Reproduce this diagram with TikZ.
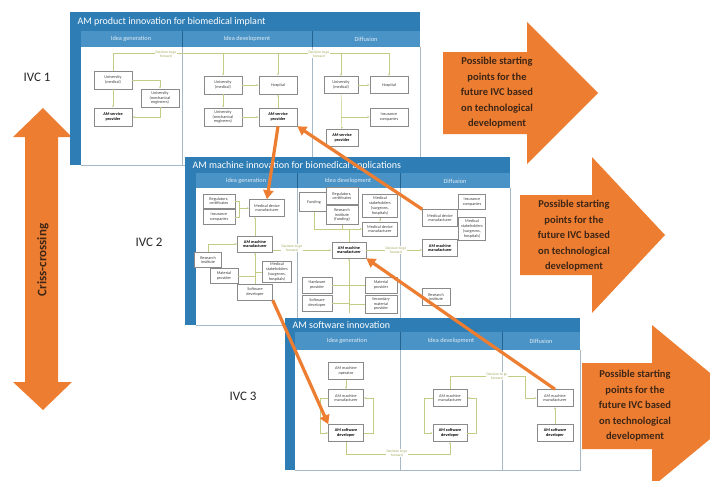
\documentclass[tikz,border=0pt]{standalone}
\usepackage{fontspec}
\setmainfont{Carlito}
\usepackage{tikz}
\usetikzlibrary{arrows.meta}

\definecolor{panelblue}{HTML}{2E7DB5}
\definecolor{headblue}{HTML}{4A93C6}
\definecolor{rulegray}{HTML}{A7B8C6}
\definecolor{boxgray}{HTML}{8A8A8A}
\definecolor{flowgreen}{HTML}{C3CB84}
\definecolor{decgreen}{HTML}{A3A85A}
\definecolor{ivcorange}{HTML}{ED7D31}
\definecolor{arrowtext}{HTML}{3E2616}

\begin{document}
\begin{tikzpicture}[
   x=1pt, y=-1pt,
   box/.style={draw=boxgray, fill=white, line width=.5pt, align=center, inner sep=.5pt,
      minimum width=35pt, minimum height=16pt,
      font=\fontsize{4.2}{4.8}\selectfont, text=black!75},
   keybox/.style={box, font=\fontsize{4.2}{4.8}\selectfont\bfseries, text=black},
   flow/.style={draw=flowgreen, line width=.5pt, -{Latex[length=2.2pt,width=2pt]}},
   bus/.style={draw=flowgreen, line width=.5pt},
   decision/.style={fill=white, inner sep=.3pt, align=center, text=decgreen,
      font=\fontsize{3.6}{4}\selectfont},
   paneltitle/.style={anchor=west, text=white, font=\fontsize{10}{12}\selectfont},
   colhead/.style={text=white!85!panelblue, font=\fontsize{6.3}{7}\selectfont},
   cross/.style={draw=ivcorange, line width=3.2pt, -{Triangle[length=9pt,width=10pt]}},
   bigtext/.style={align=center, text=arrowtext, font=\fontsize{10.5}{15.5}\selectfont\bfseries},
   ivc/.style={text=black!85, font=\fontsize{13}{14}\selectfont}
]
\useasboundingbox (0,0) rectangle (710,480);
\clip (0,0) rectangle (710,480);

% big arrows on the right
\fill[ivcorange] (443,52) -- (527,52) -- (527,22) -- (598,93) -- (527,164) -- (527,134) -- (443,134) -- cycle;
\node[bigtext] (startA) at (497,93) {Possible starting\\points for the\\future IVC based\\on technological\\development};
\fill[ivcorange] (520,195) -- (592,195) -- (592,157) -- (665,235) -- (592,313) -- (592,275) -- (520,275) -- cycle;
\node[bigtext] (startB) at (574,236) {Possible starting\\points for the\\future IVC based\\on technological\\development};
\fill[ivcorange] (582,363) -- (652,363) -- (652,325) -- (750,406) -- (652,487) -- (652,449) -- (582,449) -- cycle;
\node[bigtext] (startC) at (635,406) {Possible starting\\points for the\\future IVC based\\on technological\\development};

% criss-crossing
\fill[ivcorange] (43,108) -- (72,137) -- (58,137) -- (58,382) -- (72,382) -- (43,410)
   -- (13,382) -- (25,382) -- (25,137) -- (13,137) -- cycle;
\node[rotate=90, text=arrowtext, font=\fontsize{13}{14}\selectfont\bfseries] (criss) at (43,260) {Criss-crossing};

\node[ivc] (ivcA) at (37,77) {IVC 1};
\node[ivc] (ivcB) at (149,242) {IVC 2};
\node[ivc] (ivcC) at (243,396) {IVC 3};

% IVC 1
\fill[panelblue] (70,12) rectangle (420,165);
\fill[headblue] (81,31) rectangle (420,47);
\fill[white] (81,47) rectangle (420,165);
\draw[rulegray] (81,165) -- (420,165) -- (420,47);
\draw[rulegray] (182,47) -- (182,165) (312,47) -- (312,165);
\draw[panelblue!80!black, line width=.4pt] (182,31) -- (182,47) (312,31) -- (312,47);
\node[paneltitle] (aTitle) at (74,22) {AM product innovation for biomedical implant};
\foreach \cx/\ct in {131/Idea generation, 247/Idea development, 366/Diffusion}
   \node[colhead] at (\cx,39) {\ct};

\node[box, minimum width=38pt, minimum height=18pt] (aUnivMedG) at (113,80) {University\\(medical)};
\node[box, minimum width=38pt, minimum height=18pt] (aUnivMechG) at (160,98) {University\\(mechanical\\engineers)};
\node[keybox, minimum width=38pt, minimum height=18pt] (aServG) at (113,117) {AM service\\provider};
\node[box, minimum width=38pt, minimum height=18pt] (aUnivMedD) at (223,85) {University\\(medical)};
\node[box, minimum width=38pt, minimum height=18pt] (aHospD) at (278,85) {Hospital};
\node[box, minimum width=38pt, minimum height=18pt] (aUnivMechD) at (223,117) {University\\(mechanical\\engineers)};
\node[keybox, minimum width=38pt, minimum height=18pt] (aServD) at (278,117) {AM service\\provider};
\node[box, minimum width=34pt, minimum height=17pt] (aUnivMedF) at (341,85) {University\\(medical)};
\node[box, minimum width=38pt, minimum height=17pt] (aHospF) at (389,85) {Hospital};
\node[box, minimum width=38pt, minimum height=18pt] (aInsF) at (389,117) {Insurance\\companies};
\node[keybox, minimum width=32pt, minimum height=17pt] (aServF) at (342,138) {AM service\\provider};

\coordinate (aDecLine) at (0,53);
\draw[bus] (aUnivMedG.north) |- (aHospF.north |- aDecLine);
\foreach \n in {aUnivMedD, aHospD, aUnivMedF, aHospF}
   \draw[flow] (\n.north |- aDecLine) -- (\n.north);
\draw[flow] (aUnivMedG) -- (aServG);
\draw[flow] (aUnivMedG.east) -| (aUnivMechG.north);
\draw[flow] (aUnivMechG.south) |- (aServG.east);
\draw[flow] (aUnivMedD) -- (aHospD);
\draw[flow] (aUnivMedD) -- (aUnivMechD);
\draw[flow] (aUnivMechD) -- (aServD);
\draw[flow] (aServD) -- (aHospD);
\draw[flow] (aUnivMedF) -- (aHospF);
\draw[flow] (aUnivMedF) -- (aServF);
\draw[flow] (aUnivMedF.south |- aInsF) -- (aInsF);
\node[decision] (aDecA) at (166,54) {Decision to go\\forward};
\node[decision] (aDecB) at (319,54) {Decision to go\\forward};

% IVC 2
\fill[panelblue] (185,157) rectangle (510,325);
\fill[headblue] (196,173) rectangle (510,188);
\fill[white] (196,188) rectangle (510,325);
\draw[rulegray] (196,325) -- (510,325) -- (510,188);
\draw[rulegray] (297,188) -- (297,325) (400,188) -- (400,325);
\draw[panelblue!80!black, line width=.4pt] (297,173) -- (297,188) (400,173) -- (400,188);
\node[paneltitle] (bTitle) at (189,166) {AM machine innovation for biomedical applications};
\foreach \cx/\ct in {246/Idea generation, 348/Idea development, 455/Diffusion}
   \node[colhead] at (\cx,181) {\ct};

\node[box, minimum width=32pt, minimum height=14pt] (bRegG) at (219,201) {Regulators,\\certificates};
\node[box, minimum width=32pt, minimum height=15pt] (bInsG) at (219,217) {Insurance\\companies};
\node[box, minimum height=17pt] (bMedDevG) at (267,208) {Medical device\\manufacturer};
\node[keybox] (bMachG) at (255,244) {AM machine\\manufacturer};
\node[box, minimum width=27pt, minimum height=15pt] (bResG) at (208,260) {Research\\institute};
\node[box, minimum width=28pt, minimum height=15pt] (bMatG) at (224,276) {Material\\provider};
\node[box, minimum width=29pt, minimum height=21pt] (bStakeG) at (277,272) {Medical\\stakeholders\\(surgeons,\\hospitals)};
\node[box] (bSoftG) at (255,292) {Software\\developer};

\node[box, minimum width=30pt, minimum height=19pt] (bFundD) at (314,202) {Funding};
\node[box, minimum width=32pt, minimum height=17pt] (bRegD) at (342,196) {Regulators,\\certificates};
\node[box, minimum width=32pt, minimum height=19pt] (bResD) at (342,215) {Research\\institute\\(funding)};
\node[box, minimum height=23pt] (bStakeD) at (380,206) {Medical\\stakeholders\\(surgeons,\\hospitals)};
\node[box, minimum height=14pt] (bMedDevD) at (380,229) {Medical device\\manufacturer};
\node[keybox, minimum width=34pt] (bMachD) at (349,250) {AM machine\\manufacturer};
\node[box, minimum width=30pt] (bHardD) at (317,285) {Hardware\\provider};
\node[box, minimum width=30pt] (bSoftD) at (317,303) {Software\\developer};
\node[box, minimum width=32pt] (bMatD) at (381,285) {Material\\provider};
\node[box, minimum width=32pt, minimum height=18pt] (bSecD) at (381,304) {Secondary\\material\\provider};

\node[box, minimum width=27pt, minimum height=15pt] (bInsF) at (472,202) {Insurance\\companies};
\node[box, minimum width=27pt, minimum height=23pt] (bStakeF) at (472,229) {Medical\\stakeholders\\(surgeons,\\hospitals)};
\node[box, minimum height=17pt] (bMedDevF) at (440,218) {Medical device\\manufacturer};
\node[keybox, minimum height=17pt] (bMachF) at (440,248) {AM machine\\manufacturer};
\node[box, minimum width=28pt, minimum height=17pt] (bResF) at (436,297) {Research\\institute};

\draw[bus] (bRegG.east) -- ++(4,0) |- (bInsG.east);
\draw[flow] ([xshift=4pt]bRegG.south east) -- (bMedDevG.west |- bRegG.south east);
\draw[flow] (bMachG.north) -- (bMachG.north |- bMedDevG.south);
\draw[flow] (bResG.north) |- (bMachG.west);
\draw[flow] (bSoftG) -- (bMachG);
\draw[bus] (bMatG.east) -- (bMatG.east -| bSoftG.north);
\draw[bus] (bStakeG.west) -- (bStakeG.west -| bSoftG.north);
\draw[flow] (bMachG.east |- bMachD) -- (bMachD.west);

\coordinate (bTrunk) at (349,313);
\draw[flow] (bTrunk) -- (bMachD);
\foreach \n in {bHardD, bSoftD}
   \draw[bus] (\n.east) -- (\n.east -| bTrunk);
\foreach \n in {bMatD, bSecD}
   \draw[bus] (\n.west) -- (\n.west -| bTrunk);
\draw[flow] (bMachD.north) |- (bMedDevD.west);
\draw[bus] (bFundD.south) |- (bMachD.north |- bMedDevD.west);
\draw[bus] (bResD.south) -- (bResD.south |- bMedDevD.west);
\draw[flow] (bStakeD) -- (bMedDevD);
\draw[flow] (bMachD.east) -- (bMachD.east -| bMachF.west);
\node[decision] (bDecA) at (292,248) {Decision to go\\forward};
\node[decision] (bDecB) at (396,250) {Decision to go\\forward};

% IVC 3
\fill[panelblue] (285,318) rectangle (580,470);
\fill[headblue] (295,332) rectangle (580,350);
\fill[white] (295,350) rectangle (580,470);
\draw[rulegray] (295,470) -- (580,470) -- (580,350);
\draw[rulegray] (400,350) -- (400,470) (502,350) -- (502,470);
\draw[panelblue!80!black, line width=.4pt] (400,332) -- (400,350) (502,332) -- (502,350);
\node[paneltitle] (cTitle) at (289,325) {AM software innovation};
\foreach \cx/\ct in {347/Idea generation, 451/Idea development, 541/Diffusion}
   \node[colhead] at (\cx,341) {\ct};

\node[box, minimum height=17pt] (cOperG) at (346,371) {AM machine\\operator};
\node[box, minimum height=17pt] (cMachG) at (346,398) {AM machine\\manufacturer};
\node[keybox, minimum height=17pt] (cSoftG) at (346,433) {AM software\\developer};
\node[box, minimum width=34pt, minimum height=17pt] (cMachD) at (450,398) {AM machine\\manufacturer};
\node[keybox, minimum width=34pt, minimum height=17pt] (cSoftD) at (450,433) {AM software\\developer};
\node[box, minimum width=36pt, minimum height=17pt] (cMachF) at (555,398) {AM machine\\manufacturer};
\node[keybox, minimum width=36pt, minimum height=17pt] (cSoftF) at (555,433) {AM software\\developer};

\draw[flow] (cOperG) -- (cMachG);
\draw[flow] (cSoftG.east) -- ++(9,0) |- (cMachG.east);
\draw[flow] (cMachG.west) -- ++(-8,0) |- (cSoftG.west);
\draw[flow] (cMachD.west) -- ++(-9,0) |- (cSoftD.west);
\draw[flow] (cSoftD.east) -- ++(9,0) |- (cMachD.east);
\draw[flow] (cSoftG.south) -- ++(0,12) -| (cSoftD.south);
\coordinate (cDecTurn) at (525,376);
\draw[flow] (cMachD.north) |- (cDecTurn) |- (cMachF.west);
\draw[flow] (cSoftF) -- (cMachF);
\node[decision] (cDecA) at (397,453) {Decision to go\\forward};
\node[decision] (cDecB) at (497,376) {Decision to go\\forward};

% criss-crossing links
\draw[cross] (aServD.south) -- (bMedDevG.north);
\draw[cross] (bMedDevF.north west) -- (aServD.south east);
\draw[cross] (bSoftG.south east) -- (cSoftG.north west);
\draw[cross] (cMachF.north) -- (bMachD.south east);

\end{tikzpicture}
\end{document}
